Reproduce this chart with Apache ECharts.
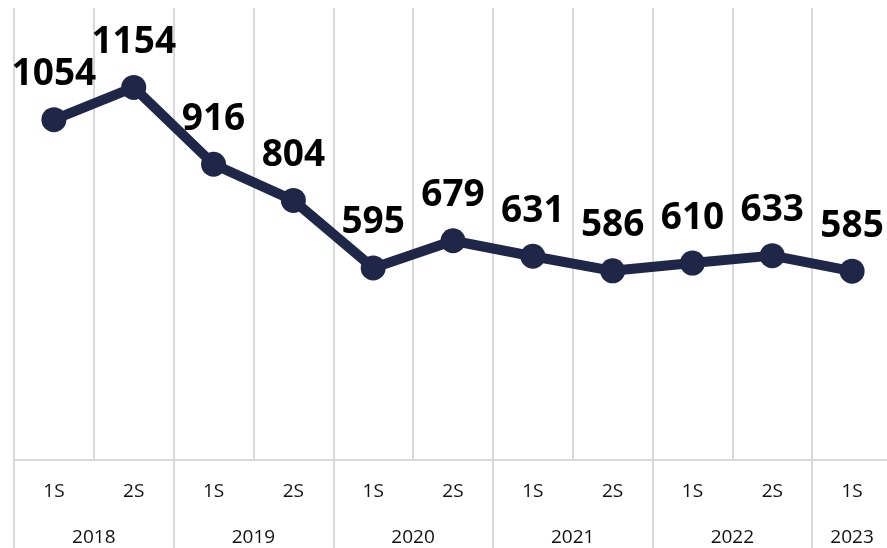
<!DOCTYPE html>
<html>
<head>
<meta charset="utf-8">
<script src="https://cdn.jsdelivr.net/npm/echarts@6/dist/echarts.min.js"></script>
<style>html,body{margin:0;padding:0;background:#fff;}#c{width:887px;height:548px;}</style>
</head>
<body>
<div id="c"></div>
<script>
const halfLabels = ['1S','2S','1S','2S','1S','2S','1S','2S','1S','2S','1S'];
const years = ['2018','2019','2020','2021','2022','2023'];
const yearSpans = [2,2,2,2,2,1];
const values = [1054,1154,916,804,595,679,631,586,610,633,585];

const nCat = halfLabels.length;
const yearAxisData = [];
for (let i = 0; i <= nCat * 2; i++) yearAxisData.push('');
const yearTickIdx = new Set();
let pos = 0;
years.forEach((y, k) => {
  yearTickIdx.add(pos * 2);
  yearAxisData[pos * 2 + yearSpans[k]] = y;
  pos += yearSpans[k];
});
yearTickIdx.add(pos * 2);

const chart = echarts.init(document.getElementById('c'));
const gridColor = '#d9d9d9';
chart.setOption({
  animation: false,
  backgroundColor: '#ffffff',
  grid: { left: 14, right: -5, top: 8, bottom: 88, containLabel: false, outerBoundsMode: 'none' },
  xAxis: [
    {
      type: 'category',
      data: halfLabels,
      boundaryGap: true,
      axisLine: { show: true, lineStyle: { color: gridColor, width: 2 } },
      axisTick: { show: false },
      splitLine: { show: true, interval: 0, lineStyle: { color: gridColor, width: 2 } },
      axisLabel: { interval: 0, margin: 22, fontFamily: 'Open Sans', fontSize: 19, color: '#111' }
    },
    {
      type: 'category',
      position: 'bottom',
      data: yearAxisData,
      boundaryGap: false,
      axisLine: { show: false },
      axisTick: {
        show: true,
        length: 90,
        inside: false,
        interval: (i) => yearTickIdx.has(i),
        lineStyle: { color: gridColor, width: 2 }
      },
      splitLine: { show: false },
      axisLabel: { interval: 0, margin: 68, fontFamily: 'Open Sans', fontSize: 19, color: '#111' }
    }
  ],
  yAxis: {
    type: 'value',
    min: 0,
    max: 1400,
    show: false,
    splitLine: { show: false }
  },
  series: [{
    type: 'line',
    data: values,
    xAxisIndex: 0,
    symbol: 'circle',
    symbolSize: 25,
    lineStyle: { color: '#1f2749', width: 10 },
    itemStyle: { color: '#1f2749' },
    label: {
      show: true,
      position: 'top',
      distance: 14,
      fontFamily: 'Open Sans',
      fontWeight: 'bold',
      fontSize: 37,
      color: '#000'
    }
  }]
});
</script>
</body>
</html>
